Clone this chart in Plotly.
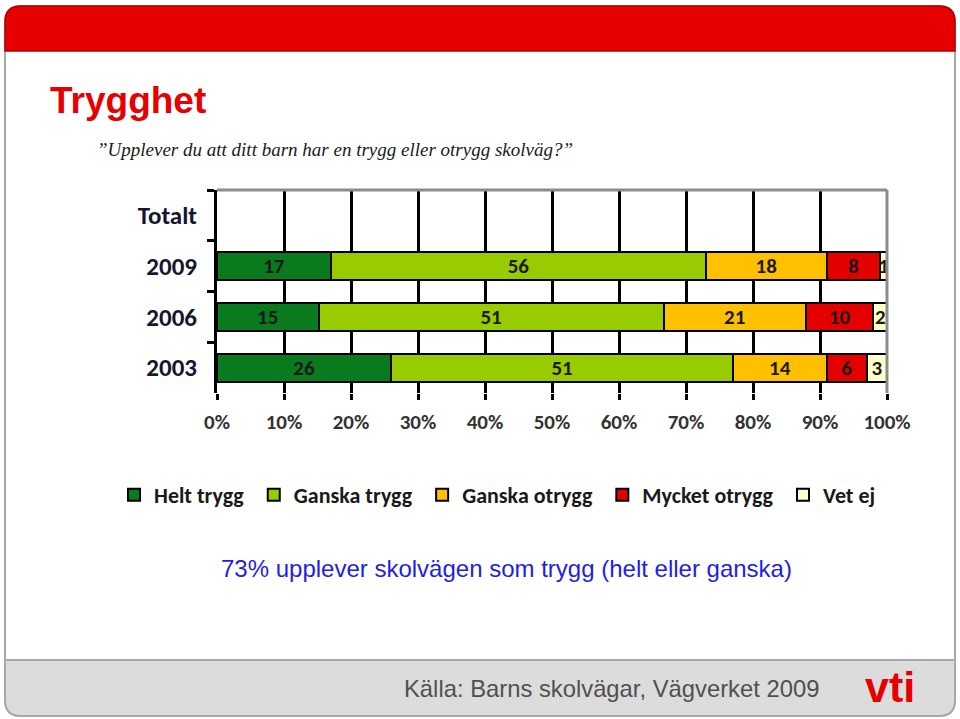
import plotly.graph_objects as go

W, H = 960, 719

categories = ["Totalt", "2009", "2006", "2003"]
years = ["2009", "2006", "2003"]
series_names = ["Helt trygg", "Ganska trygg", "Ganska otrygg", "Mycket otrygg", "Vet ej"]
helt_trygg = [17, 15, 26]
ganska_trygg = [56, 51, 51]
ganska_otrygg = [18, 21, 14]
mycket_otrygg = [8, 10, 6]
vet_ej = [1, 2, 3]
series_values = [helt_trygg, ganska_trygg, ganska_otrygg, mycket_otrygg, vet_ej]
colors = ["#0A7A1E", "#99CC00", "#FFC000", "#E50000", "#FFFFCC"]
x_ticks = [0, 10, 20, 30, 40, 50, 60, 70, 80, 90, 100]

CHART_FONT = "Carlito, Lato, sans-serif"


def px(x):
    return x / W


def py(y):
    return 1 - y / H


fig = go.Figure()
for name, vals, col in zip(series_names, series_values, colors):
    fig.add_trace(go.Bar(
        y=years, x=vals, name=f"<b>{name}</b>\u00a0", orientation="h",
        marker=dict(color=col, line=dict(color="black", width=2)),
        text=vals, texttemplate="<b>%{text}</b>", textposition="inside",
        insidetextanchor="middle", textangle=0,
        textfont=dict(family=CHART_FONT, size=21, color="#1a1a1a"),
        hoverinfo="skip",
    ))


def rounded_path(x0, y0, x1, y1, r, top=True, bottom=True):
    def P(x, y):
        return f"{px(x):.5f},{py(y):.5f}"
    rt = r if top else 0
    rb = r if bottom else 0
    d = f"M {P(x0, y0 + rt)} "
    if rt:
        d += f"Q {P(x0, y0)} {P(x0 + rt, y0)} "
    d += f"L {P(x1 - rt, y0)} "
    if rt:
        d += f"Q {P(x1, y0)} {P(x1, y0 + rt)} "
    d += f"L {P(x1, y1 - rb)} "
    if rb:
        d += f"Q {P(x1, y1)} {P(x1 - rb, y1)} "
    d += f"L {P(x0 + rb, y1)} "
    if rb:
        d += f"Q {P(x0, y1)} {P(x0, y1 - rb)} "
    d += "Z"
    return d


shapes = [
    dict(type="path", xref="paper", yref="paper", layer="below",
         path=rounded_path(5, 6, 955, 716, 16), fillcolor="white",
         line=dict(color="#A8A8A8", width=2)),
    dict(type="path", xref="paper", yref="paper", layer="below",
         path=rounded_path(5, 660, 955, 716, 16, top=False, bottom=True),
         fillcolor="#DCDCDC", line=dict(color="#A8A8A8", width=2)),
    dict(type="path", xref="paper", yref="paper", layer="below",
         path=rounded_path(5, 6, 955, 51, 16, top=True, bottom=False),
         fillcolor="#E60000", line=dict(color="#B00000", width=1.5)),
    dict(type="line", xref="x domain", yref="y domain", x0=0, x1=1, y0=1, y1=1,
         line=dict(color="#8C8C8C", width=3)),
    dict(type="line", xref="x domain", yref="y domain", x0=1, x1=1, y0=0, y1=1,
         line=dict(color="#8C8C8C", width=3)),
]

annotations = [
    dict(text="<b>Trygghet</b>", x=px(48), y=py(101), xref="paper", yref="paper",
         xanchor="left", yanchor="middle", showarrow=False,
         font=dict(family="Liberation Sans, Arial", size=37, color="#E60000")),
    dict(text="<i>”Upplever du att ditt barn har en trygg eller otrygg skolväg?”</i>",
         x=px(95), y=py(149), xref="paper", yref="paper",
         xanchor="left", yanchor="middle", showarrow=False,
         font=dict(family="Liberation Serif, Times New Roman", size=19, color="#1a1a1a")),
    dict(text="73% upplever skolvägen som trygg (helt eller ganska)",
         x=px(507), y=py(568), xref="paper", yref="paper",
         xanchor="center", yanchor="middle", showarrow=False,
         font=dict(family="Liberation Sans, Arial", size=24, color="#1E1EE6")),
    dict(text="Källa: Barns skolvägar, Vägverket 2009",
         x=px(821), y=py(688), xref="paper", yref="paper",
         xanchor="right", yanchor="middle", showarrow=False,
         font=dict(family="Liberation Sans, Arial", size=23.8, color="#505050")),
    dict(text="<b>vti</b>", x=px(890), y=py(687), xref="paper", yref="paper",
         xanchor="center", yanchor="middle", showarrow=False,
         font=dict(family="Liberation Sans Narrow, Liberation Sans, Arial", size=43, color="#E60000")),
]

fig.update_layout(
    width=W, height=H,
    margin=dict(l=0, r=0, t=0, b=0, autoexpand=False),
    paper_bgcolor="white", plot_bgcolor="white",
    barmode="stack", barnorm="percent", bargap=0.45,
    uniformtext=dict(mode="show", minsize=21),
    shapes=shapes, annotations=annotations,
    showlegend=True,
    legend=dict(orientation="h", x=px(114), y=py(495), xanchor="left", yanchor="middle",
                font=dict(family=CHART_FONT, size=22, color="#1a1a1a"),
                itemwidth=30,
                traceorder="normal", bgcolor="rgba(0,0,0,0)", itemclick=False),
    xaxis=dict(domain=[px(217), px(887)], range=[0, 100], tickvals=x_ticks,
               ticktext=[f"<b>{v}%</b>" for v in x_ticks],
               showgrid=True, gridcolor="black", gridwidth=3,
               ticks="outside", ticklen=6, tickwidth=3, tickcolor="black",
               showline=False, zeroline=False, ticklabelstandoff=4,
               tickfont=dict(family=CHART_FONT, size=21, color="#333333"), fixedrange=True),
    yaxis=dict(domain=[py(393), py(190)], categoryorder="array",
               categoryarray=categories, range=[3.5, -0.5], type="category",
               tickvals=categories, ticktext=[f"<b>{c}</b>" for c in categories],
               tickson="boundaries", ticks="outside", ticklen=7, tickwidth=3,
               tickcolor="black", showline=True, linecolor="black", linewidth=3,
               showgrid=False, zeroline=False, ticklabelstandoff=12,
               tickfont=dict(family=CHART_FONT, size=25, color="#15152e"), fixedrange=True),
)

fig.write_html("out.html", config={"displayModeBar": False},
               post_script="document.body.style.margin='0';document.body.style.overflow='hidden';")
